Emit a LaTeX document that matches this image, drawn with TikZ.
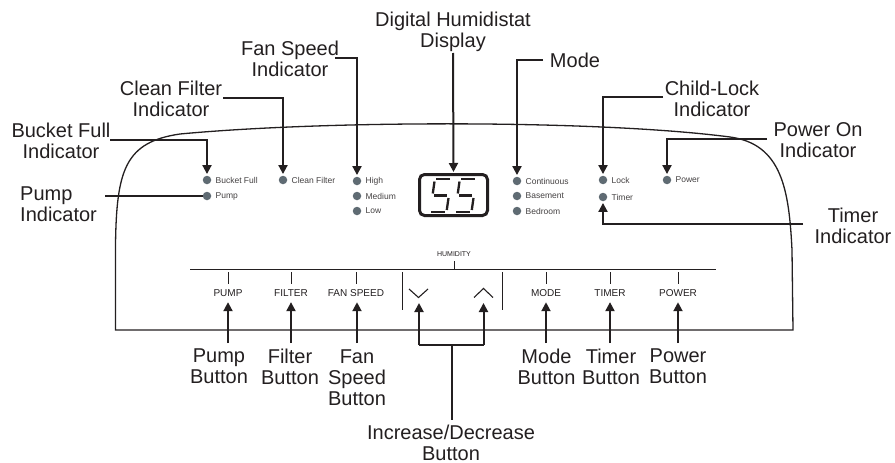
\documentclass[tikz,border=0pt]{standalone}
\usepackage{fontspec}
\setmainfont{Liberation Sans}
\usetikzlibrary{arrows.meta}
\definecolor{ink}{HTML}{231F20}
\definecolor{ledgray}{HTML}{5F6B73}
\begin{document}
\begin{tikzpicture}[x=1pt,y=-1pt,
  callout/.style={font=\fontsize{20}{21}\selectfont, align=center, inner sep=0pt, text=ink},
  lead/.style={draw=ink, line width=2pt},
  leadarrow/.style={lead, -{Triangle[width=9pt,length=9pt]}},
  led/.style={circle, fill=ledgray, minimum size=8.5pt, inner sep=0pt},
  ledtext/.style={font=\fontsize{8.5}{10}\selectfont, text=ink!85, anchor=west, inner sep=0pt},
  btntext/.style={font=\fontsize{10}{12}\selectfont, inner sep=0pt, text=ink},
  panel/.style={draw=ink, line width=1pt},
  seg/.style={draw=ink, line width=2.3pt}]
\useasboundingbox (0,0) rectangle (895,463);

% housing outline
\draw[ink, line width=1.3pt] (115.5,245) .. controls (116.5,170) and (125,142) .. (180,134)
  .. controls (330,120) and (600,120) .. (730,137)
  .. controls (782,144) and (789,190) .. (792,250) -- (793,330) -- (115.5,330) -- cycle;

% indicator LEDs
\node[led] (bf) at (207,180) {};   \node[ledtext] (bft) at ([xshift=4pt]bf.east) {Bucket Full};
\node[led] (pd) at (207,196) {};   \node[ledtext] (pdt) at ([xshift=4pt]pd.east) {Pump};
\node[led] (cf) at (283,180) {};   \node[ledtext] (cft) at ([xshift=4pt]cf.east) {Clean Filter};
\node[led] (hi) at (357,181) {};   \node[ledtext] (hit) at ([xshift=4pt]hi.east) {High};
\node[led] (me) at (357,196) {};   \node[ledtext] (met) at ([xshift=4pt]me.east) {Medium};
\node[led] (lo) at (357,211) {};   \node[ledtext] (lot) at ([xshift=4pt]lo.east) {Low};
\node[led] (co) at (517,181) {};   \node[ledtext] (cot) at ([xshift=4pt]co.east) {Continuous};
\node[led] (ba) at (517,196) {};   \node[ledtext] (bat) at ([xshift=4pt]ba.east) {Basement};
\node[led] (be) at (517,211) {};   \node[ledtext] (bet) at ([xshift=4pt]be.east) {Bedroom};
\node[led] (lk) at (603,180) {};   \node[ledtext] (lkt) at ([xshift=4pt]lk.east) {Lock};
\node[led] (tm) at (603,197) {};   \node[ledtext] (tmt) at ([xshift=4pt]tm.east) {Timer};
\node[led] (pw) at (667,180) {};   \node[ledtext] (pwt) at ([xshift=4pt]pw.east) {Power};

% display
\node[draw=ink, line width=3pt, rounded corners=5pt, minimum width=68pt, minimum height=41pt, inner sep=0pt] (disp) at (453.5,195) {};
\foreach \dx in {0,25}{
  \begin{scope}[xshift=\dx pt]
    \draw[seg] (436,179) -- (450,179);
    \draw[seg] (434.5,181.5) -- (432.8,193.5);
    \draw[seg] (434,195.5) -- (447,195.5);
    \draw[seg] (448.5,198) -- (446.8,210);
    \draw[seg] (431,212) -- (445,212);
  \end{scope}
}

% top callouts
\node[callout] (cBF) at (61,140.5) {Bucket Full\\Indicator};
\node[callout, align=left, anchor=west] (cPI) at (20,204) {Pump\\Indicator};
\node[callout] (cCF) at (171,98.5) {Clean Filter\\Indicator};
\node[callout] (cFS) at (290,58.5) {Fan Speed\\Indicator};
\node[callout] (cDH) at (453,32) {Digital Humidistat\\Display};
\node[callout] (cMO) at (575,60) {Mode};
\node[callout] (cCL) at (712,98.5) {Child-Lock\\Indicator};
\node[callout] (cPO) at (818,140.5) {Power On\\Indicator};
\node[callout] (cTI) at (853,226) {Timer\\Indicator};

\coordinate (aBF) at (110,140);
\coordinate (aPI) at (105,196);
\coordinate (aCF) at (223,98);
\coordinate (aFS) at (335,58);
\coordinate (aDH) at (453,53);
\coordinate (aMO) at (543,60);
\coordinate (aCL) at (663,97);
\coordinate (aPO) at (767,139);
\coordinate (aTI) at (803,224);

\draw[leadarrow, shorten >=1.5pt] (aBF) -| (bf.north);
\draw[lead] (aPI) -- (pd);
\draw[leadarrow, shorten >=1.5pt] (aCF) -| (cf.north);
\draw[leadarrow, shorten >=1.5pt] (aFS) -| (hi.north);
\draw[leadarrow, shorten >=1pt] (aDH) -- (disp.north);
\draw[leadarrow, shorten >=1.5pt] (aMO) -| (co.north);
\draw[leadarrow, shorten >=1.5pt] (aCL) -| (lk.north);
\draw[leadarrow, shorten >=1.5pt] (aPO) -| (pw.north);
\draw[leadarrow, shorten >=1.5pt] (aTI) -| (tm.south);

% button strip
\draw[panel] (190,269) -- (716,269);
\node[font=\fontsize{7}{8}\selectfont, inner sep=0pt, text=ink] (hum) at (454,254.5) {HUMIDITY};
\draw[panel] (454,261) -- (454,269);
\draw[panel] (402,272) -- (402,310);
\draw[panel] (502,272) -- (502,310);
\draw[ink, line width=1.1pt] (409,289) -- (418.5,297.5) -- (428,289);
\draw[ink, line width=1.1pt] (474,297.5) -- (483.5,288.5) -- (493,297.5);
\coordinate (dnkey) at (419,303);
\coordinate (upkey) at (483.5,303);

\foreach \x/\t/\n in {228/PUMP/pump, 291/FILTER/filter, 356/FAN SPEED/fan, 546/MODE/mode, 610/TIMER/timer, 678/POWER/power}{
  \node[btntext] (\n) at (\x,293) {\t};
  \draw[panel] (\x,272) -- (\x,284);
}

% bottom callouts
\node[callout] (bPU) at (219,366.5) {Pump\\Button};
\node[callout] (bFI) at (290,366.5) {Filter\\Button};
\node[callout] (bFS) at (357,378) {Fan\\Speed\\Button};
\node[callout] (bMO) at (546.5,366.5) {Mode\\Button};
\node[callout] (bTI) at (611,366.5) {Timer\\Button};
\node[callout] (bPO) at (678,366.5) {Power\\Button};
\node[callout] (bID) at (451,442.5) {Increase/Decrease\\Button};

\coordinate (tPU) at (228,343);
\coordinate (tFI) at (291,343);
\coordinate (tFS) at (357,343);
\coordinate (tMO) at (546,343);
\coordinate (tTI) at (610,343);
\coordinate (tPO) at (678,343);
\coordinate (brL) at (419,345);
\coordinate (brR) at (483.5,345);
\coordinate (brM) at (451.5,345);
\coordinate (brB) at (451.5,420);

\draw[leadarrow, shorten >=5.5pt] (tPU) -- (pump.south);
\draw[leadarrow, shorten >=5.5pt] (tFI) -- (filter.south);
\draw[leadarrow, shorten >=5.5pt] (tFS) -- (tFS |- fan.south);
\draw[leadarrow, shorten >=5.5pt] (tMO) -- (mode.south);
\draw[leadarrow, shorten >=5.5pt] (tTI) -- (timer.south);
\draw[leadarrow, shorten >=5.5pt] (tPO) -- (power.south);
\draw[leadarrow] (brL) -- (dnkey);
\draw[leadarrow] (brR) -- (upkey);
\draw[lead] (brL) -- (brR);
\draw[lead] (brM) -- (brB);
\end{tikzpicture}
\end{document}
